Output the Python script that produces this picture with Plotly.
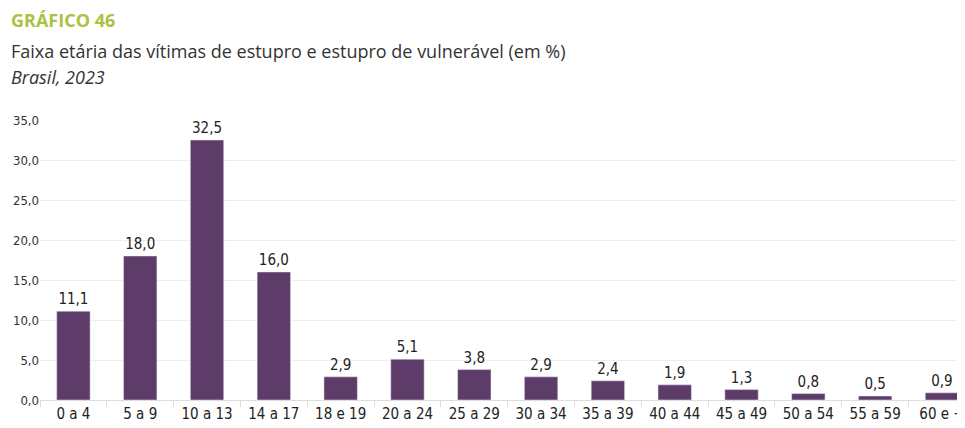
import plotly.graph_objects as go

categories = ["0 a 4", "5 a 9", "10 a 13", "14 a 17", "18 e 19", "20 a 24", "25 a 29",
              "30 a 34", "35 a 39", "40 a 44", "45 a 49", "50 a 54", "55 a 59", "60 e +"]
values = [11.1, 18.0, 32.5, 16.0, 2.9, 5.1, 3.8, 2.9, 2.4, 1.9, 1.3, 0.8, 0.5, 0.9]
y_ticks = [0, 5, 10, 15, 20, 25, 30, 35]

BAR = "#5e3c69"
COND = "Liberation Sans Narrow, DejaVu Sans Condensed, Roboto, sans-serif"
SANS = "Open Sans, sans-serif"

W, H = 957, 420
ML, MR, MT, MB = 32, 0, 112, 28
PW = W - ML - MR
PH = H - MT - MB

fig = go.Figure(go.Bar(
    x=categories, y=values, marker_color=BAR, width=0.5,
    text=[f"{v:.1f}".replace(".", ",") for v in values],
    textposition="outside", cliponaxis=False,
    textfont=dict(family=COND, size=15, color="#222"),
))

fig.update_layout(
    width=W, height=H,
    margin=dict(l=ML, r=MR, t=MT, b=MB),
    plot_bgcolor="white", paper_bgcolor="white",
    separators=",.",
    showlegend=False,
    xaxis=dict(range=[-0.5, 13.24], tickson="boundaries", ticks="outside", ticklen=6,
               tickcolor="#dddddd", showline=True, linecolor="#dddddd", linewidth=1,
               tickfont=dict(family=COND, size=15, color="#222"), showgrid=False),
    yaxis=dict(range=[0, 35], tickvals=y_ticks, tickformat=".1f", showgrid=True,
               gridcolor="#eeeeee", zeroline=False, ticks="",
               tickfont=dict(family=COND, size=13, color="#333")),
)


def py(page_y):
    # page y (body has 8px margin) -> paper coordinate
    return (MT + PH - (page_y - 8)) / PH


def px(page_x):
    return (page_x - 8 - ML) / PW


fig.add_annotation(text="<b>GRÁFICO 46</b>", xref="paper", yref="paper",
                   x=px(9), y=py(20), xanchor="left", yanchor="middle", showarrow=False,
                   font=dict(family=SANS, size=18, color="#a9c23f"))
fig.add_annotation(text="Faixa etária das vítimas de estupro e estupro de vulnerável (em %)",
                   xref="paper", yref="paper",
                   x=px(9), y=py(51), xanchor="left", yanchor="middle", showarrow=False,
                   font=dict(family=SANS, size=18, color="#333"))
fig.add_annotation(text="<i>Brasil, 2023</i>", xref="paper", yref="paper",
                   x=px(9), y=py(77), xanchor="left", yanchor="middle", showarrow=False,
                   font=dict(family=SANS, size=18, color="#333"))

fig.write_html("out.html")
